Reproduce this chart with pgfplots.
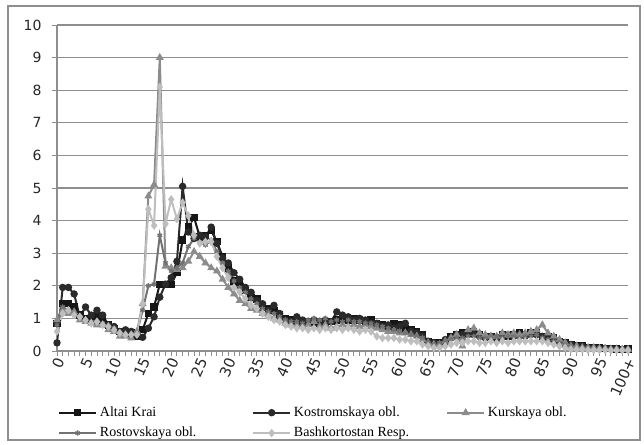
\documentclass[border=0pt]{standalone}
\usepackage{fontspec}
\setmainfont{Liberation Serif}
\newfontfamily\tickfont{DejaVu Sans}
\usepackage{pgfplots}
\usepackage{pgfplotstable}
\pgfplotsset{compat=1.18}

\definecolor{cAltai}{HTML}{161616}
\definecolor{cKost}{HTML}{2A2A2A}
\definecolor{cKursk}{HTML}{8C8C8C}
\definecolor{cRost}{HTML}{727272}
\definecolor{cBash}{HTML}{BEBEBE}
\definecolor{cGrid}{HTML}{8E8E8E}

% x = age index (100 = 100+), a = Altai Krai, b = Kostromskaya obl., c = Kurskaya obl.,
% d = Rostovskaya obl., e = Bashkortostan Resp.
\pgfplotstableread{
x a b c d e
0 0.85 0.25 0.95 0.80 0.60
1 1.45 1.95 1.25 1.35 1.15
2 1.45 1.95 1.15 1.25 1.25
3 1.35 1.75 1.20 1.15 1.10
4 1.10 1.05 0.95 1.05 1.05
5 1.00 1.35 0.90 0.95 0.95
6 0.95 1.10 0.85 0.90 0.85
7 1.05 1.25 0.80 0.90 0.90
8 0.95 1.10 0.80 0.85 0.80
9 0.80 0.80 0.65 0.75 0.75
10 0.70 0.75 0.60 0.70 0.65
11 0.60 0.60 0.45 0.55 0.55
12 0.60 0.65 0.45 0.50 0.50
13 0.55 0.60 0.40 0.45 0.50
14 0.45 0.50 0.60 0.55 0.50
15 0.65 0.42 1.45 1.25 1.45
16 1.15 0.70 4.75 2.00 4.35
17 1.35 1.05 5.10 2.05 3.85
18 2.05 1.65 9.00 3.55 8.10
19 2.05 2.05 2.60 2.70 3.90
20 2.05 2.25 2.55 2.45 4.65
21 2.40 2.75 2.50 2.55 4.05
22 3.40 5.05 2.55 2.70 4.55
23 3.80 3.65 2.75 3.20 4.15
24 4.10 3.45 3.05 3.45 3.55
25 3.50 3.55 2.90 3.35 3.30
26 3.55 3.50 2.70 3.25 3.35
27 3.70 3.80 2.55 3.40 3.35
28 3.35 3.30 2.45 3.05 2.90
29 2.90 2.85 2.20 2.70 2.55
30 2.55 2.70 1.95 2.45 2.25
31 2.15 2.40 1.75 2.15 1.95
32 2.05 2.20 1.55 1.95 1.80
33 1.85 1.95 1.45 1.80 1.60
34 1.65 1.80 1.30 1.60 1.40
35 1.60 1.55 1.25 1.45 1.30
36 1.35 1.45 1.15 1.30 1.15
37 1.30 1.25 1.10 1.20 1.05
38 1.25 1.40 1.00 1.15 0.95
39 1.10 1.15 0.95 1.05 0.90
40 1.00 0.95 0.85 0.95 0.80
41 0.95 0.90 0.80 0.90 0.75
42 0.90 1.05 0.80 0.90 0.70
43 0.85 0.95 0.75 0.85 0.70
44 0.90 0.90 0.80 0.95 0.65
45 0.85 0.95 0.90 1.00 0.70
46 0.90 0.85 0.75 0.95 0.65
47 0.85 0.95 0.80 1.00 0.70
48 0.90 0.90 0.70 0.90 0.65
49 0.95 1.20 0.75 0.95 0.70
50 1.00 1.10 0.80 0.90 0.65
51 0.95 1.05 0.75 0.95 0.70
52 1.00 0.95 0.80 0.90 0.65
53 0.95 1.00 0.75 0.90 0.60
54 0.90 0.95 0.80 0.85 0.65
55 0.95 0.85 0.75 0.85 0.60
56 0.85 0.85 0.70 0.80 0.45
57 0.80 0.75 0.65 0.75 0.40
58 0.75 0.80 0.60 0.70 0.40
59 0.85 0.70 0.60 0.65 0.40
60 0.80 0.75 0.55 0.60 0.35
61 0.70 0.85 0.55 0.55 0.35
62 0.65 0.60 0.50 0.50 0.30
63 0.60 0.55 0.45 0.45 0.30
64 0.50 0.45 0.35 0.40 0.20
65 0.30 0.30 0.25 0.25 0.15
66 0.25 0.25 0.20 0.20 0.10
67 0.25 0.20 0.20 0.25 0.10
68 0.30 0.35 0.30 0.30 0.15
69 0.45 0.40 0.40 0.35 0.20
70 0.50 0.50 0.50 0.40 0.25
71 0.55 0.50 0.15 0.40 0.25
72 0.55 0.55 0.65 0.45 0.30
73 0.60 0.50 0.70 0.45 0.30
74 0.50 0.45 0.55 0.40 0.25
75 0.45 0.40 0.50 0.40 0.25
76 0.45 0.45 0.45 0.45 0.30
77 0.40 0.40 0.45 0.45 0.25
78 0.50 0.45 0.55 0.40 0.30
79 0.45 0.50 0.50 0.45 0.25
80 0.50 0.45 0.55 0.45 0.30
81 0.55 0.50 0.50 0.40 0.30
82 0.50 0.45 0.55 0.45 0.30
83 0.55 0.55 0.60 0.45 0.30
84 0.55 0.50 0.65 0.50 0.30
85 0.45 0.45 0.80 0.40 0.30
86 0.45 0.40 0.55 0.35 0.25
87 0.40 0.35 0.45 0.30 0.20
88 0.30 0.30 0.35 0.25 0.15
89 0.25 0.25 0.25 0.20 0.10
90 0.20 0.20 0.15 0.15 0.05
91 0.15 0.15 0.15 0.10 0.05
92 0.15 0.15 0.10 0.10 0.05
93 0.10 0.10 0.10 0.10 0.03
94 0.10 0.10 0.10 0.08 0.03
95 0.10 0.08 0.08 0.08 0.03
96 0.08 0.08 0.08 0.06 0.03
97 0.08 0.06 0.06 0.06 0.02
98 0.06 0.06 0.06 0.05 0.02
99 0.05 0.05 0.05 0.05 0.02
100 0.06 0.05 0.05 0.05 0.02
}\data

\begin{document}
\begin{tikzpicture}[x=1pt,y=1pt]
\useasboundingbox (0,0) rectangle (483,333);
\draw[cGrid, line width=1.1pt] (6,3) rectangle (480,328.5);
\begin{axis}[
    at={(42.75pt,69.75pt)}, anchor=south west,
    scale only axis,
    width=428.25pt, height=244.5pt,
    xmin=0, xmax=100, ymin=0, ymax=10,
    axis x line=bottom, axis y line=left,
    axis line style={-, cGrid, line width=0.9pt},
    xtick={0,5,...,100},
    xticklabels={0,5,10,15,20,25,30,35,40,45,50,55,60,65,70,75,80,85,90,95,100+},
    minor x tick num=4,
    ytick={0,1,...,10},
    tick align=outside,
    major tick length=3.5pt, minor tick length=3.5pt,
    tick style={cGrid, line width=0.7pt},
    ymajorgrids,
    major grid style={cGrid, line width=0.9pt},
    /pgf/number format/assume math mode=true,
    ticklabel style={font=\tickfont\fontsize{10.5}{12}\selectfont, text=black!85},
    xticklabel style={rotate=66, anchor=east, inner sep=0.5pt, yshift=-3pt,
        font=\tickfont\fontsize{11}{12}\selectfont},
    yticklabel style={xshift=-4pt},
    line width=1.5pt,
    mark size=2pt,
    legend columns=3,
    legend cell align=left,
    legend style={at={(rel axis cs:0,-0.16)}, anchor=north west, draw=none,
        fill=none, font=\fontsize{10.5}{12}\selectfont, inner sep=0pt,
        row sep=2.5pt, column sep=0pt},
    legend image code/.code={
        \draw[mark repeat=2, mark phase=2] plot coordinates {(0pt,0pt) (14pt,0pt) (28pt,0pt)};
    },
]
\addplot[color=cAltai, mark=square*] table[x=x, y=a] {\data};
\addlegendentry{\makebox[112pt][l]{Altai Krai}}
\addplot[color=cKost, mark=*] table[x=x, y=b] {\data};
\addlegendentry{\makebox[112pt][l]{Kostromskaya obl.}}
\addplot[color=cKursk, mark=triangle*] table[x=x, y=c] {\data};
\addlegendentry{\makebox[112pt][l]{Kurskaya obl.}}
\addplot[color=cRost, mark=asterisk, mark options={line width=1pt}] table[x=x, y=d] {\data};
\addlegendentry{\makebox[112pt][l]{Rostovskaya obl.}}
\addplot[color=cBash, mark=diamond*] table[x=x, y=e] {\data};
\addlegendentry{\makebox[112pt][l]{Bashkortostan Resp.}}
\end{axis}
\end{tikzpicture}
\end{document}
